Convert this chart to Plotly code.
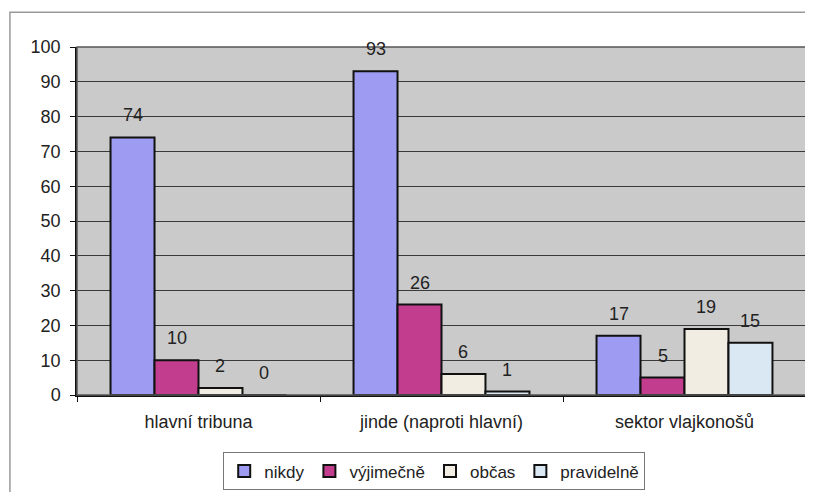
import plotly.graph_objects as go

categories = ["hlavní tribuna", "jinde (naproti hlavní)", "sektor vlajkonošů"]
series_names = ["nikdy", "výjimečně", "občas", "pravidelně"]
nikdy = [74, 93, 17]
vyjimecne = [10, 26, 5]
obcas = [2, 6, 19]
pravidelne = [0, 1, 15]
y_ticks = [0, 10, 20, 30, 40, 50, 60, 70, 80, 90, 100]

colors = ["#9d9cf2", "#c23d8e", "#f1ede2", "#d9e8f3"]
FONT = "Arial, Liberation Sans, sans-serif"

# page body has an 8px default margin, so the figure is sized to fit the window
W, H = 805, 484
ML, MR, MT, MB = 69, 7, 39, 97
BARGAP = 0.276
plot_w = W - ML - MR
cat_w = plot_w / len(categories)
bar_w = cat_w * (1 - BARGAP) / len(series_names)

fig = go.Figure()
annotations = []
all_vals = [nikdy, vyjimecne, obcas, pravidelne]
for i, (name, vals, col) in enumerate(zip(series_names, all_vals, colors)):
    fig.add_trace(go.Bar(
        name=name, x=categories, y=vals,
        marker=dict(color=col, line=dict(color="#111111", width=2)),
    ))
    shift = (i - (len(series_names) - 1) / 2) * bar_w
    for c, v in zip(categories, vals):
        annotations.append(dict(x=c, y=v, text=str(v), showarrow=False,
                                xshift=shift, yshift=10, yanchor="bottom",
                                font=dict(family=FONT, size=18, color="#222222")))

fig.update_layout(
    width=W, height=H,
    margin=dict(l=ML, r=MR, t=MT, b=MB, autoexpand=False),
    paper_bgcolor="white", plot_bgcolor="#cacaca",
    barmode="group", bargap=BARGAP, bargroupgap=0,
    font=dict(family=FONT, size=18, color="#222222"),
    showlegend=True,
    legend=dict(orientation="h", x=0.49, xanchor="center", y=-0.165, yanchor="top",
                bordercolor="#777777", borderwidth=1, font=dict(size=17),
                itemwidth=30, tracegroupgap=0),
    xaxis=dict(showline=True, linecolor="#111111", linewidth=1.5, ticks="outside",
               tickson="boundaries", ticklen=5, tickcolor="#111111",
               tickfont=dict(size=18), showgrid=False, automargin=False,
               ticklabelstandoff=10),
    yaxis=dict(range=[0, 100], tickvals=y_ticks, showline=True, linecolor="#111111",
               linewidth=1.5, ticks="outside", ticklen=5, tickcolor="#111111",
               gridcolor="#3a3a3a", gridwidth=1, tickfont=dict(size=18),
               zeroline=False, ticklabelstandoff=6, automargin=False),
    annotations=annotations,
    shapes=[
        dict(type="rect", xref="paper", yref="paper", x0=-0.092, x1=1.2, y0=-0.5, y1=1.1,
             line=dict(color="#9a9a9a", width=1.5)),
        dict(type="rect", xref="paper", yref="paper", x0=0, x1=1, y0=0, y1=1,
             line=dict(color="#555555", width=1.5), layer="above"),
    ],
)

fig.write_html("out.html")
